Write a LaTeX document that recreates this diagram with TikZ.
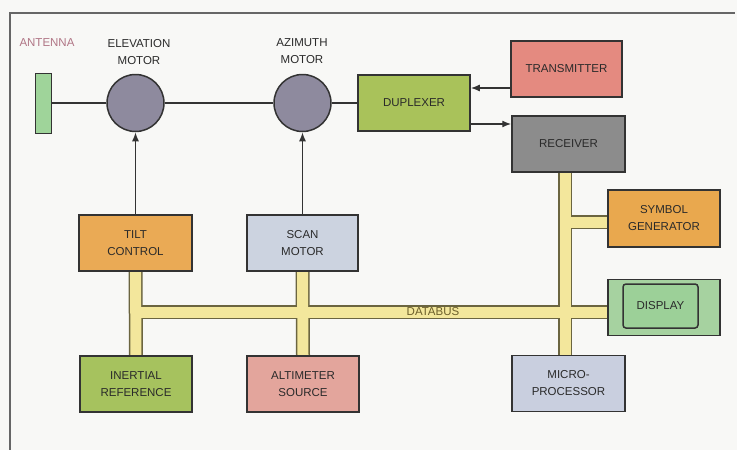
\documentclass[tikz,border=0pt]{standalone}
\usepackage{fontspec}
\setmainfont{Liberation Sans}
\usetikzlibrary{arrows.meta,calc}
\definecolor{bgc}{HTML}{F8F8F6}
\definecolor{antc}{HTML}{9FD49A}
\definecolor{motc}{HTML}{8E8A9E}
\definecolor{dupc}{HTML}{A9C25A}
\definecolor{trac}{HTML}{E48A80}
\definecolor{recc}{HTML}{8C8C8C}
\definecolor{tilc}{HTML}{EAAA55}
\definecolor{scac}{HTML}{CCD3E0}
\definecolor{inec}{HTML}{A6C25E}
\definecolor{altc}{HTML}{E3A59C}
\definecolor{symc}{HTML}{E9A84E}
\definecolor{disc}{HTML}{A6D2A0}
\definecolor{disic}{HTML}{9CD098}
\definecolor{micc}{HTML}{C9CFDF}
\definecolor{busc}{HTML}{F3E79C}
\definecolor{busl}{HTML}{6B6540}
\definecolor{antt}{HTML}{B07585}
\definecolor{dbt}{HTML}{6B5E2A}
\definecolor{edge}{HTML}{333333}
\definecolor{txt}{HTML}{2A2A2A}
\tikzset{
  txtfont/.style={font=\fontsize{11.5}{17}\selectfont, text=txt},
  blk/.style={draw=edge, line width=1.5pt, minimum width=112pt, minimum height=56pt,
    inner sep=0pt, align=center, txtfont},
  thickblk/.style={blk, line width=2.2pt},
  motor/.style={circle, draw=edge, line width=1.5pt, fill=motc, minimum size=57pt, inner sep=0pt},
  lbl/.style={align=center, txtfont, inner sep=0pt},
  wire/.style={draw=edge, line width=1.4pt},
  arr/.style={wire, -{Latex[length=9pt,width=7pt]}},
  busout/.style={draw=busl, line width=14pt},
  busin/.style={draw=busc, line width=11pt},
  dispin/.style={draw=edge, line width=1.5pt, fill=disic, rounded corners=3pt, minimum width=75pt,
    minimum height=44pt, inner sep=0pt, txtfont},
}
\begin{document}
\begin{tikzpicture}[x=1pt,y=-1pt]
\useasboundingbox (0,0) rectangle (737,450);
\fill[bgc] (0,0) rectangle (737,450);
\draw[draw=gray!80!black, line width=1.4pt] (10,450) -- (10,13) -- (735,13);

% nodes
\node[draw=edge, line width=1pt, fill=antc, minimum width=16pt, minimum height=60pt, inner sep=0pt] (ant) at (43,103) {};
\node[lbl, text=antt] (antl) at (47,43) {ANTENNA};
\node[motor] (elev) at (135.5,103) {};
\node[lbl] (elevl) at (139,52) {ELEVATION\\MOTOR};
\node[motor] (azim) at (302.5,103) {};
\node[lbl] (aziml) at (302,51) {AZIMUTH\\MOTOR};
\node[blk, fill=dupc] (dup) at (414,103) {DUPLEXER};
\node[blk, fill=trac, minimum width=111pt] (tra) at (566.5,69) {TRANSMITTER};
\node[blk, fill=recc, minimum width=113pt] (rec) at (568.5,144) {RECEIVER};
\node[blk, fill=tilc, minimum width=113pt] (tilt) at (135.5,243) {TILT\\CONTROL};
\node[thickblk, fill=scac, minimum width=111pt] (scan) at (302.5,243) {SCAN\\MOTOR};
\node[blk, fill=inec] (iner) at (136,384) {INERTIAL\\REFERENCE};
\node[thickblk, fill=altc] (alti) at (303,384) {ALTIMETER\\SOURCE};
\node[blk, fill=symc, minimum height=57pt] (sym) at (664,218.5) {SYMBOL\\GENERATOR};
\node[blk, fill=disc, minimum height=56pt] (disp) at (664,307.5) {};
\node[dispin] (dispi) at (660.5,306) {DISPLAY};
\node[blk, fill=micc, minimum width=113pt] (micro) at (568.5,383.5) {MICRO-\\PROCESSOR};

% databus
\coordinate (tj) at (tilt.south |- 0,312);
\coordinate (rtop) at (565,172);
\coordinate (rbot) at (565,355);
\coordinate (gj) at (565,222);
\path[busout] (tilt.south) -- (iner.north);
\path[busout] (scan.south) -- (alti.north);
\path[busout] (rtop) -- (rbot);
\path[busout] (tj) -- (disp.west |- tj);
\path[busout] (gj) -- (sym.west |- gj);
\path[busin] (tilt.south) -- (iner.north);
\path[busin] (scan.south) -- (alti.north);
\path[busin] (rtop) -- (rbot);
\path[busin] (tj) -- (disp.west |- tj);
\path[busin] (gj) -- (sym.west |- gj);
\node[lbl, text=dbt] (dbl) at (433,312) {DATABUS};

% redraw boxes touched by the bus
\node[blk, fill=tilc, minimum width=113pt] at (tilt) {TILT\\CONTROL};
\node[thickblk, fill=scac, minimum width=111pt] at (scan) {SCAN\\MOTOR};
\node[blk, fill=inec] at (iner) {INERTIAL\\REFERENCE};
\node[thickblk, fill=altc] at (alti) {ALTIMETER\\SOURCE};
\node[blk, fill=symc, minimum height=57pt] at (sym) {SYMBOL\\GENERATOR};
\node[blk, fill=disc, minimum height=56pt] at (disp) {};
\node[dispin] at (dispi) {DISPLAY};
\node[blk, fill=recc, minimum width=113pt] at (rec) {RECEIVER};
\node[blk, fill=micc, minimum width=113pt] at (micro) {MICRO-\\PROCESSOR};

% connectors
\draw[wire] (ant.east) -- (elev.west);
\draw[wire] (elev.east) -- (azim.west);
\draw[wire] (azim.east) -- (dup.west);
\draw[arr] (tilt.north) -- (elev.south);
\draw[arr] (scan.north) -- (azim.south);
\draw[arr] (tra.west |- 0,88) -- (dup.east |- 0,88);
\draw[arr] (dup.east |- 0,124) -- (rec.west |- 0,124);
\end{tikzpicture}
\end{document}
